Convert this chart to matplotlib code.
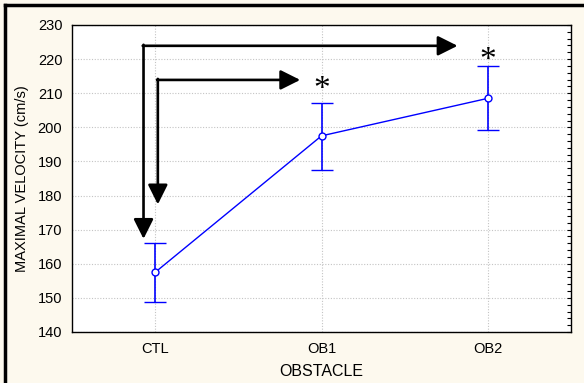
import matplotlib
matplotlib.use("Agg")
import matplotlib.pyplot as plt
from matplotlib.lines import Line2D
import numpy as np

categories = ["CTL", "OB1", "OB2"]
means = [157.5, 197.5, 208.5]
upper = [166.0, 207.2, 217.9]
lower = [148.8, 187.6, 199.1]
y_ticks = [140, 150, 160, 170, 180, 190, 200, 210, 220, 230]

plt.rcParams['font.family'] = ['Liberation Sans', 'DejaVu Sans']

fig = plt.figure(figsize=(5.84, 3.83), dpi=100)
fig.patch.set_facecolor('#fdf9ee')
ax = fig.add_axes([72/584, 1-332/383, (571-72)/584, (332-25)/383])
ax.set_facecolor('white')

x = np.arange(len(categories))
m = np.array(means)
err = [m - np.array(lower), np.array(upper) - m]
ax.errorbar(x, m, yerr=err, color='#0000ff', lw=1.0, elinewidth=1.2,
            capsize=8, capthick=1.2, marker='o', ms=5, mfc='white', mec='#0000ff', mew=1.0)

ax.set_xlim(-0.5, 2.5)
ax.set_ylim(140, 230)
ax.set_yticks(y_ticks)
ax.set_xticks(x)
ax.set_xticklabels(categories)
ax.grid(True, ls=(0, (1, 1.5)), color='#c4c4c4', lw=0.8)
ax.set_axisbelow(True)
ax.tick_params(axis='both', length=0, labelsize=10.5, pad=7)
ax.set_xlabel("OBSTACLE", fontsize=11.5, labelpad=6)
ax.set_ylabel("MAXIMAL VELOCITY (cm/s)", fontsize=10.5, labelpad=6)
for s in ax.spines.values():
    s.set_linewidth(1.0)

# right side inward minor ticks
ax2 = ax.twinx()
ax2.set_ylim(140, 230)
ax2.set_yticks(np.arange(140, 231, 2))
ax2.tick_params(axis='y', direction='in', length=3, labelright=False, width=0.8)
ax2.spines[:].set_visible(False)

# significance arrows
arrow_kw = dict(arrowstyle='-|>,head_length=0.6,head_width=0.3', mutation_scale=20,
                lw=1.9, color='black', shrinkA=0, shrinkB=0)
# outer
ax.annotate('', xy=(-0.07, 167.3), xytext=(-0.07, 224.2), arrowprops=arrow_kw)
ax.annotate('', xy=(1.818, 223.9), xytext=(-0.075, 223.9), arrowprops=arrow_kw)
# inner
ax.annotate('', xy=(0.016, 177.4), xytext=(0.016, 214.2), arrowprops=arrow_kw)
ax.annotate('', xy=(0.872, 213.9), xytext=(0.011, 213.9), arrowprops=arrow_kw)

ax.text(1.0, 211.0, '*', fontsize=24, family='Liberation Serif', ha='center', va='center')
ax.text(2.0, 219.5, '*', fontsize=24, family='Liberation Serif', ha='center', va='center')

# figure border (top and left)
fig.add_artist(Line2D([5/584, 5/584], [0, 1-5/383], color='black', lw=2.5))
fig.add_artist(Line2D([5/584, 1], [1-5/383, 1-5/383], color='black', lw=2.5))

fig.savefig('out.png', dpi=100, facecolor=fig.get_facecolor())
